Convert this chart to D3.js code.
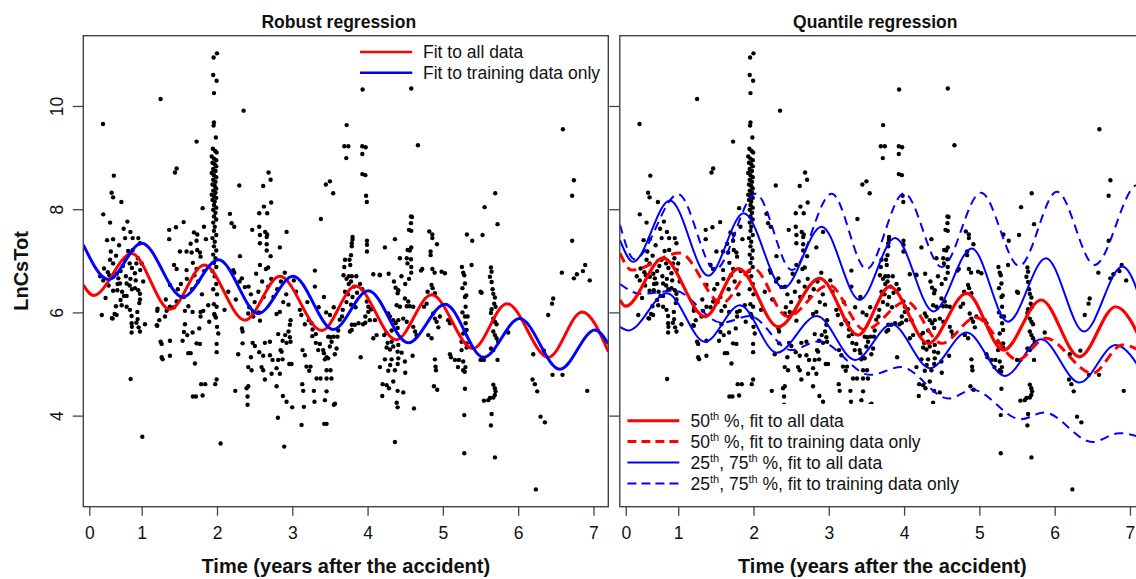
<!DOCTYPE html>
<html><head><meta charset="utf-8">
<script src="https://cdn.jsdelivr.net/npm/d3@7"></script>
<style>body{margin:0;background:#fff;overflow:hidden} text{font-family:"Liberation Sans",Arial,Helvetica,sans-serif;fill:#111}</style>
</head><body><svg id="chart" width="1136" height="579"></svg>
<script>
// ---- data (time in years, LnCsTot) ----
const points = [
[0.486,9.65],[0.49,7.90],[0.58,7.74],[0.63,8.65],[0.60,8.32],[0.62,8.23],[0.73,8.14],[0.81,7.76],[0.76,7.62],[0.85,7.56],[0.54,7.40],[0.62,7.42],[0.78,7.44],[0.88,7.44],[0.59,7.18],[0.82,7.19],[0.88,7.21],[0.955,7.44],[0.977,7.34],[0.58,7.02],[0.62,6.95],[0.78,7.02],[0.84,6.95],[0.87,6.86],[0.93,6.95],[0.98,6.82],[0.91,6.76],[0.50,6.85],[0.55,6.78],[0.60,6.70],[0.67,6.75],[0.72,6.80],[0.79,6.70],[0.85,6.65],[0.91,6.47],[0.955,6.43],[0.977,6.36],[0.977,6.25],[0.84,6.52],[0.87,6.45],[0.80,6.32],[0.74,6.40],[0.68,6.55],[0.62,6.42],[0.56,6.52],[0.49,6.62],[0.45,6.70],[0.614,5.88],[0.667,5.95],[0.658,6.12],[0.734,6.14],[0.72,6.24],[0.765,6.32],[0.80,6.11],[0.844,6.05],[0.866,5.93],[0.866,5.79],[0.866,5.61],[0.959,5.71],[0.977,5.63],[1.043,5.77],[0.942,6.01],[0.946,5.87],[0.968,6.18],[0.712,6.56],[0.80,6.56],[0.676,6.43],[0.57,6.72],[0.623,6.69],[0.69,6.66],[0.604,5.89],[0.64,5.97],[0.87,5.72],[0.93,5.80],[0.853,4.71],[1.008,3.59],[0.47,5.95],[0.52,6.28],[0.70,7.30],[0.95,7.05],[0.92,6.62],[0.66,7.10],[0.75,6.90],[1.02,6.60],[1.00,6.95],
[1.251,10.135],[1.365,7.42],[1.365,7.60],[1.442,8.71],[1.464,8.79],[1.43,6.92],[1.376,6.53],[1.278,5.09],[1.265,5.13],[1.375,5.16],[1.251,5.43],[1.265,5.39],[1.375,5.45],[1.207,5.74],[1.234,5.85],[1.207,6.03],[1.309,5.92],[1.331,6.03],[1.375,6.11],[1.428,6.10],[1.464,6.21],[1.32,6.25],[1.21,6.07],[1.20,5.75],[1.455,7.65],
[1.561,5.62],[1.543,5.45],[1.605,5.56],[1.574,5.77],[1.619,5.21],[1.65,5.21],[1.707,5.01],[1.729,5.40],[1.773,5.39],[1.676,5.61],[1.765,5.69],[1.782,5.92],[1.782,6.01],[1.676,6.01],[1.574,6.03],[1.818,6.03],[1.72,4.37],[1.809,4.39],[1.79,4.61],[1.844,4.61],[1.897,5.82],[1.729,9.31],[1.557,7.75],[1.508,7.18],[1.596,7.18],[1.464,6.84],[1.596,6.82],[1.65,7.33],[1.694,7.55],[1.738,7.51],[1.729,7.39],[1.663,7.16],[1.738,7.21],[1.773,7.16],[1.782,7.08],[1.809,8.02],[1.827,7.66],[1.853,7.42],[1.52,6.55],[1.60,6.65],[1.67,6.45],[1.70,6.72],[1.75,6.60],[1.80,6.35],[1.83,6.80],[1.56,6.30],[1.48,6.45],[1.62,6.12],[1.68,4.37],[1.68,6.96],[1.73,6.84],
[2.0,11.02],[1.955,10.94],[1.95,10.60],[1.995,10.49],[1.96,10.25],[1.96,9.68],[1.955,9.62],[1.985,9.39],[1.945,9.17],[1.975,9.13],[1.995,9.10],[1.93,9.02],[1.96,8.98],[1.99,8.95],[1.94,8.90],[1.97,8.87],[1.99,8.83],[1.95,8.78],[1.98,8.74],[1.93,8.70],[1.96,8.66],[1.99,8.62],[1.95,8.57],[1.98,8.53],[1.94,8.48],[1.97,8.45],[1.99,8.40],[1.95,8.36],[1.98,8.32],[1.93,8.28],[1.96,8.25],[1.99,8.22],[1.94,8.18],[1.97,8.15],[1.96,8.08],[1.99,8.03],[1.95,7.99],[1.98,7.93],[1.96,7.86],[1.99,7.80],[1.95,7.74],[1.97,7.66],[1.96,7.58],[1.99,7.50],[1.94,7.44],[1.97,7.37],[1.96,7.28],[1.99,7.20],[1.95,7.12],[1.98,7.05],[1.96,6.96],[1.99,6.88],[1.94,6.80],[1.959,6.16],[1.995,6.11],[1.964,5.97],[1.986,5.90],[2.017,5.59],[1.995,5.39],[1.995,5.23],[1.884,6.14],[1.977,4.61],[1.995,4.70],[2.048,3.46],[1.97,6.70],[1.99,6.55],[1.95,6.45],[2.0,6.35],[2.0,5.72],[1.97,5.94],
[2.172,7.91],[2.194,7.73],[2.229,7.66],[2.296,8.46],[2.305,7.09],[2.216,6.82],[2.23,6.77],[2.353,9.91],[2.282,5.19],[2.34,5.40],[2.331,5.69],[2.34,5.63],[2.243,4.48],[2.37,6.49],[2.10,6.05],[2.15,6.40],[2.25,6.25],[2.30,6.60],[2.33,6.66],
[2.468,7.60],[2.561,7.66],[2.57,7.50],[2.561,7.92],[2.667,7.92],[2.623,8.05],[2.614,8.45],[2.685,8.71],[2.712,8.57],[2.72,8.13],[2.64,7.56],[2.667,7.51],[2.66,7.46],[2.57,7.34],[2.66,7.32],[2.66,7.20],[2.712,7.09],[2.57,6.92],[2.68,6.87],[2.65,6.84],[2.835,7.26],[2.924,7.56],[2.90,6.77],[2.415,5.98],[2.481,6.01],[2.481,5.92],[2.557,6.0],[2.57,5.84],[2.473,5.41],[2.503,5.35],[2.561,5.23],[2.614,5.16],[2.45,5.13],[2.415,4.94],[2.459,4.88],[2.592,4.94],[2.614,4.88],[2.636,5.41],[2.703,5.43],[2.703,5.17],[2.738,5.08],[2.636,4.70],[2.725,4.81],[2.791,4.92],[2.835,4.81],[2.813,5.08],[2.871,5.09],[2.844,5.27],[2.858,5.24],[2.871,5.45],[2.906,5.56],[2.924,5.41],[2.968,5.52],[2.977,5.43],[2.95,5.63],[2.977,5.85],[2.968,5.76],[2.813,5.58],[2.835,6.01],[2.96,5.0],[2.99,5.0],[2.791,5.97],[2.406,4.21],[2.406,4.37],[2.393,4.53],[2.415,4.57],[2.791,4.57],[2.875,4.38],[2.924,4.27],[2.809,3.96],[2.999,4.16],[2.893,3.40],[2.42,6.50],[2.45,6.35],[2.50,6.20],[2.55,6.40],[2.60,6.60],[2.62,6.30],[2.68,6.50],[2.72,6.65],[2.75,6.30],[2.80,6.45],[2.85,6.60],[2.88,6.20],[2.92,6.35],[2.95,6.15],[2.52,6.75],[2.43,6.10],
[3.123,3.82],[3.424,3.84],[3.455,3.84],[3.154,4.17],[3.295,4.27],[3.433,4.30],[3.552,4.21],[3.132,4.61],[3.145,4.48],[3.287,4.48],[3.455,4.47],[3.167,5.77],[3.136,5.27],[3.167,5.17],[3.265,5.54],[3.313,5.58],[3.189,4.95],[3.242,4.95],[3.225,4.87],[3.322,4.72],[3.375,4.72],[3.313,5.41],[3.366,5.39],[3.344,5.27],[3.41,5.27],[3.42,5.21],[3.455,5.13],[3.433,5.09],[3.477,5.11],[3.455,4.88],[3.508,4.88],[3.455,4.72],[3.52,4.72],[3.27,5.67],[3.256,5.79],[3.499,5.34],[3.522,5.43],[3.565,5.19],[3.588,5.30],[3.477,5.53],[3.508,5.52],[3.55,5.53],[3.567,4.23],[3.30,6.81],[3.38,7.81],[3.446,8.48],[3.50,8.54],[3.543,8.31],[3.05,6.40],[3.10,6.05],[3.20,6.20],[3.30,6.50],[3.35,6.10],[3.42,6.30],[3.45,6.00],[3.50,5.95],[3.55,6.10],[3.12,5.95],[3.22,5.85],[3.02,6.62],
[3.934,10.32],[3.722,9.63],[3.691,9.22],[3.744,9.22],[3.717,8.99],[3.93,9.22],[3.974,9.20],[3.93,9.07],[3.93,8.68],[3.97,8.66],[3.98,8.26],[3.99,8.14],[3.80,7.46],[3.80,7.41],[3.79,7.34],[3.79,7.28],[3.992,7.39],[3.992,7.31],[3.992,7.18],[3.78,7.11],[3.76,7.02],[3.70,7.02],[3.69,6.88],[3.77,6.92],[3.75,6.70],[3.79,6.70],[4.076,6.74],[4.164,6.72],[3.63,5.86],[3.66,5.92],[3.766,5.63],[3.79,5.66],[3.60,5.53],[3.61,5.65],[3.79,5.76],[3.83,5.76],[3.88,5.79],[3.94,5.77],[3.97,5.80],[3.99,6.21],[4.01,6.11],[4.05,6.06],[3.97,5.92],[4.01,6.01],[4.03,5.85],[3.908,5.13],[4.076,5.50],[4.098,5.85],[4.12,5.56],[3.68,6.72],[3.72,6.65],[3.75,6.55],[3.78,6.60],[3.82,6.50],[3.85,6.70],[3.70,6.40],[3.74,6.35],[3.80,6.30],[3.86,6.38],[3.72,6.20],[3.78,6.15],[3.84,6.10],[3.67,6.05],[3.90,6.55],[3.93,6.45],
[4.58,10.34],[4.669,9.24],[4.576,7.86],[4.576,7.73],[4.58,7.58],[4.58,7.26],[4.56,7.20],[4.532,7.21],[4.52,7.05],[4.576,7.03],[4.53,6.95],[4.58,6.88],[4.58,6.77],[4.23,7.26],[4.363,7.42],[4.43,7.05],[4.726,6.84],[4.71,6.81],[4.363,3.49],[4.195,4.38],[4.386,4.25],[4.399,4.16],[4.616,4.14],[4.20,4.61],[4.253,4.59],[4.284,4.53],[4.399,4.48],[4.474,4.45],[4.341,4.66],[4.164,4.94],[4.275,4.87],[4.363,4.88],[4.23,5.09],[4.319,5.09],[4.408,5.11],[4.30,4.98],[4.40,5.0],[4.50,4.83],[4.253,5.32],[4.297,5.28],[4.341,5.34],[4.408,5.37],[4.266,5.41],[4.319,5.43],[4.399,5.24],[4.452,5.22],[4.496,5.05],[4.598,5.16],[4.22,5.56],[4.25,5.60],[4.275,5.98],[4.297,5.92],[4.341,5.85],[4.372,5.79],[4.408,5.85],[4.386,6.14],[4.43,6.11],[4.52,6.12],[4.56,6.12],[4.607,6.11],[4.372,6.48],[4.408,6.43],[4.399,6.37],[4.496,6.27],[4.54,6.21],[4.474,5.88],[4.52,5.82],[4.607,5.72],[4.63,5.63],[4.65,5.56],[4.75,6.11],[4.784,6.17],[4.35,6.60],[4.45,6.70],[4.50,6.55],[4.55,6.65],[4.28,6.75],[4.16,6.73],[4.59,7.85],[4.55,7.60],[4.40,5.70],[4.32,5.65],
[4.82,7.57],[4.86,7.51],[4.86,7.44],[4.921,7.32],[4.837,7.18],[4.837,7.11],[4.86,6.84],[4.89,6.77],[4.881,4.57],[4.925,4.50],[4.894,5.09],[4.903,4.95],[4.908,4.88],[4.797,6.40],[4.85,6.53],[4.864,6.47],[4.894,6.37],[4.872,5.98],[4.894,5.88],[4.917,5.82],[4.94,5.71],[4.96,5.92],[4.983,6.79],[5.027,6.76],[4.806,5.56],[4.85,5.50],[5.071,5.85],[5.094,5.79],
[5.094,5.19],[5.107,5.13],[5.16,5.08],[5.213,5.08],[5.27,5.05],[5.20,4.94],[5.30,4.94],[5.27,4.88],[5.29,4.85],[5.248,5.27],[5.315,5.32],[5.248,5.43],[5.315,5.40],[5.284,4.01],[5.293,4.52],[5.284,3.27],[5.293,6.30],[5.302,6.11],[5.293,5.92],[5.328,5.92],[5.302,5.79],[5.315,5.66],[5.27,5.59],[5.293,6.56],[5.284,6.72],[5.514,6.38],[5.319,7.51],[5.39,7.39],[5.381,6.92],[5.253,6.88],[5.27,6.77],[5.26,6.47],[5.31,6.33],[5.26,6.0],
[5.638,3.81],[5.647,4.03],[5.545,4.29],[5.602,4.30],[5.625,4.34],[5.67,4.60],[5.69,4.53],[5.70,4.47],[5.69,4.40],[5.67,4.35],[5.691,3.19],[5.50,5.08],[5.545,5.08],[5.726,5.08],[5.647,6.79],[5.625,6.69],[5.647,6.59],[5.67,6.36],[5.691,6.29],[5.682,6.17],[5.70,6.11],[5.647,6.06],[5.638,5.99],[5.67,5.88],[5.691,5.82],[5.713,5.77],[5.67,5.63],[5.691,5.56],[5.713,5.50],[5.735,5.43],[5.638,5.30],[5.67,5.27],[5.868,5.61],[5.695,8.31],[5.554,8.04],[5.726,7.71],[5.527,7.50],[5.638,6.87],[5.66,6.45],[5.50,6.40],
[6.235,2.57],[6.297,3.98],[6.355,3.87],[6.191,4.70],[6.222,4.61],[6.253,4.47],[6.20,5.19],[6.341,5.26],[6.465,6.27],[6.45,6.17],[6.399,5.95],[6.456,4.79],[6.589,4.79],[6.594,9.55],[6.74,8.56],[6.717,8.26],[6.717,7.39],
[6.58,6.77],[6.74,6.66],[6.78,6.74],[6.86,6.80],[6.89,6.92],[6.95,6.62],[6.917,4.48]
];

const robustAll   = [[0.225,6.53],[0.36,6.33],[0.866,7.14],[1.375,6.06],[1.83,6.92],[2.37,5.85],[2.835,6.70],[3.39,5.65],[3.84,6.51],[4.38,5.47],[4.85,6.34],[5.40,5.30],[5.85,6.17],[6.40,5.13],[6.85,6.01],[7.197,5.24]];
const robustTrain = [[0.225,7.31],[0.56,6.64],[1.0,7.34],[1.545,6.30],[2.02,7.02],[2.55,5.98],[3.01,6.70],[3.545,5.67],[4.01,6.42],[4.54,5.41],[5.03,6.16],[5.54,5.13],[6.02,5.88],[6.555,4.90],[7.02,5.66],[7.197,5.39]];
const q50All   = [[0.227,6.24],[0.30,6.12],[0.80,7.05],[1.356,5.92],[1.80,6.85],[2.33,5.72],[2.88,6.66],[3.39,5.56],[3.81,6.50],[4.32,5.40],[4.83,6.37],[5.32,5.27],[5.82,6.24],[6.33,5.14],[6.81,6.11],[7.2,5.28]];
const q50Train = [[0.227,7.15],[0.38,6.82],[1.02,7.15],[1.58,6.18],[2.0,6.85],[2.45,5.92],[3.0,6.53],[3.48,5.66],[4.03,6.21],[4.5,5.40],[4.95,5.90],[5.51,5.08],[5.88,5.50],[6.5,4.82],[6.9,5.37],[7.2,5.2]];
const q75All   = [[0.227,7.40],[0.40,6.98],[0.89,8.17],[1.40,6.71],[1.87,7.92],[2.40,6.47],[2.905,7.66],[3.41,6.24],[3.88,7.44],[4.39,6.02],[4.90,7.24],[5.38,5.82],[5.885,7.05],[6.39,5.63],[6.9,6.89],[7.2,5.95]];
const q25All   = [[0.227,5.72],[0.34,5.65],[0.85,6.37],[1.356,5.43],[1.82,6.14],[2.31,5.22],[2.84,5.93],[3.35,5.08],[3.835,5.77],[4.345,4.92],[4.83,5.61],[5.34,4.77],[5.82,5.48],[6.33,4.64],[6.81,5.37],[7.2,4.75]];
const q75Train = [[0.227,7.70],[0.42,7.03],[1.0,8.29],[1.49,6.83],[2.03,8.30],[2.51,6.82],[3.04,8.30],[3.5,6.84],[4.0,8.31],[4.5,6.88],[5.02,8.32],[5.53,6.90],[6.03,8.34],[6.53,6.92],[7.1,8.47],[7.2,8.40]];
const q25Train = [[0.227,6.55],[0.5,6.36],[0.95,6.42],[1.58,5.80],[1.95,5.93],[2.5,5.27],[2.87,5.44],[3.55,4.79],[3.96,4.94],[4.59,4.33],[4.91,4.50],[5.55,3.93],[5.86,4.06],[6.5,3.49],[6.86,3.66],[7.2,3.55]];

const xTickValues = [0.304,1,2,3,4,5,6,7];
const xTickLabels = ["0","1","2","3","4","5","6","7"];
const yTickValues = [4,6,8,10];
const panelTitles = ["Robust regression","Quantile regression"];
const xTitle = "Time (years after the accident)";
const yTitle = "LnCsTot";
const legendRobust = ["Fit to all data","Fit to training data only"];
const legendQuantile = [
  [["50","th"]," %, fit to all data"],
  [["50","th"]," %, fit to training data only"],
  [["25","th"],", ",["75","th"]," %, fit to all data"],
  [["25","th"],", ",["75","th"]," %, fit to training data only"]
];

// ---- layout ----
const svg = d3.select("#chart");
const plotTop = 35.7, plotBottom = 506.7;
const panels = [{left:83.3, right:608.3},{left:619.8, right:1144.8}];
const xDomain = [0.2244, 7.197], yDomain = [2.235, 11.362];
const RED = "#ff0000", BLUE = "#0000ff";
const FS = 17.5;

const y = d3.scaleLinear().domain(yDomain).range([plotBottom, plotTop]);

svg.append("defs").selectAll("clipPath").data(panels).join("clipPath")
  .attr("id",(d,i)=>"clip"+i)
  .append("rect").attr("x",d=>d.left).attr("y",plotTop).attr("width",d=>d.right-d.left).attr("height",plotBottom-plotTop);

panels.forEach((p,i)=>{
  const x = d3.scaleLinear().domain(xDomain).range([p.left,p.right]);
  const g = svg.append("g");
  const plot = g.append("g").attr("clip-path",`url(#clip${i})`);

  plot.append("g").selectAll("circle").data(points).join("circle")
    .attr("cx",d=>x(d[0])).attr("cy",d=>y(d[1])).attr("r",2.2).attr("fill","#000");

  const line = d3.line().x(d=>x(d[0])).y(d=>y(d[1])).curve(d3.curveMonotoneX);
  const series = i===0
    ? [{d:robustAll,c:RED,w:3},{d:robustTrain,c:BLUE,w:3}]
    : [{d:q75Train,c:BLUE,w:2,dash:"9,6"},{d:q25Train,c:BLUE,w:2,dash:"9,6"},
       {d:q75All,c:BLUE,w:2},{d:q25All,c:BLUE,w:2},
       {d:q50Train,c:RED,w:3,dash:"10,6"},{d:q50All,c:RED,w:3.2}];
  series.forEach(s=>{
    plot.append("path").attr("d",line(s.d)).attr("fill","none")
      .attr("stroke",s.c).attr("stroke-width",s.w)
      .attr("stroke-dasharray",s.dash||null);
  });

  g.append("rect").attr("x",p.left).attr("y",plotTop).attr("width",p.right-p.left).attr("height",plotBottom-plotTop)
    .attr("fill","none").attr("stroke","#444").attr("stroke-width",1.4);

  const xa = g.append("g").attr("transform",`translate(0,${plotBottom})`)
    .call(d3.axisBottom(x).tickValues(xTickValues).tickFormat((d,k)=>xTickLabels[k]).tickSize(9).tickPadding(11));
  xa.select(".domain").remove();
  xa.selectAll(".tick line").attr("stroke","#444").attr("stroke-width",1.3);
  xa.selectAll(".tick text").attr("font-size",FS).attr("fill","#111").style("font-family","Liberation Sans, Arial, sans-serif");

  const ya = g.append("g").attr("transform",`translate(${p.left},0)`)
    .call(d3.axisLeft(y).tickValues(yTickValues).tickSize(10.5).tickFormat(i===0? d3.format("d") : ()=>""));
  ya.select(".domain").remove();
  ya.selectAll(".tick line").attr("stroke","#444").attr("stroke-width",1.3);
  if(i===0){
    ya.selectAll(".tick text").attr("font-size",FS).attr("fill","#111")
      .style("font-family","Liberation Sans, Arial, sans-serif")
      .attr("text-anchor","middle").attr("dy",null)
      .attr("transform","translate(-20,0) rotate(-90)").attr("x",0).attr("y",0);
  }

  g.append("text").attr("x",p.left+255.5).attr("y",27.5).attr("text-anchor","middle")
    .attr("font-size",FS).attr("font-weight","bold").text(panelTitles[i]);
  g.append("text").attr("x",(p.left+p.right)/2).attr("y",573).attr("text-anchor","middle")
    .attr("font-size",20).attr("font-weight","bold").text(xTitle);

  if(i===0){
    const lx = p.left+276.7;
    legendRobust.forEach((t,k)=>{
      const ly = 52 + k*20.7;
      g.append("line").attr("x1",lx).attr("x2",lx+52.3).attr("y1",ly).attr("y2",ly)
        .attr("stroke",k===0?RED:BLUE).attr("stroke-width",2.6);
      g.append("text").attr("x",lx+63).attr("y",ly+6.3).attr("font-size",FS).text(t);
    });
  } else {
    g.append("rect").attr("x",p.left+1.5).attr("y",404).attr("width",345).attr("height",93).attr("fill","#fff");
    const styles = [{c:RED,w:3},{c:RED,w:3,dash:"9,5"},{c:BLUE,w:2},{c:BLUE,w:2,dash:"9,5"}];
    legendQuantile.forEach((parts,k)=>{
      const ly = 420.7 + k*20.9;
      const st = styles[k];
      g.append("line").attr("x1",p.left+7.6).attr("x2",p.left+59.5).attr("y1",ly).attr("y2",ly)
        .attr("stroke",st.c).attr("stroke-width",st.w).attr("stroke-dasharray",st.dash||null);
      const t = g.append("text").attr("x",p.left+70.8).attr("y",ly+6.3).attr("font-size",FS);
      let pending = 0;
      parts.forEach(part=>{
        if(Array.isArray(part)){
          t.append("tspan").attr("dy",pending||null).text(part[0]);
          t.append("tspan").attr("font-size",11).attr("dy",-7).text(part[1]);
          pending = 7;
        } else {
          t.append("tspan").attr("dy",pending||null).text(part);
          pending = 0;
        }
      });
    });
  }
});

svg.append("text").attr("transform","translate(27.7,271) rotate(-90)").attr("text-anchor","middle")
  .attr("font-size",20).attr("font-weight","bold").text(yTitle);
</script>
</body></html>
